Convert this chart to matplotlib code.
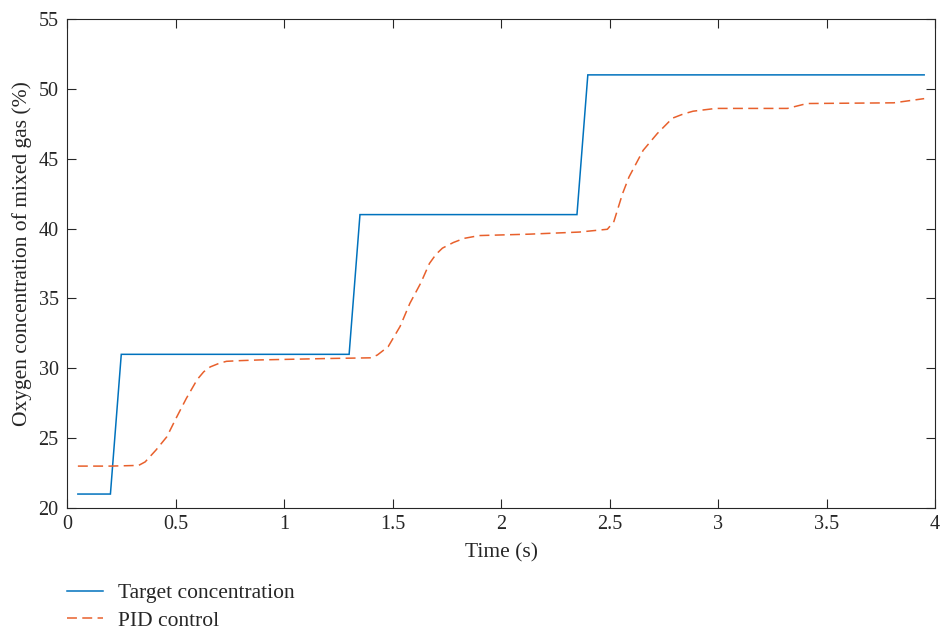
import numpy as np
import matplotlib.pyplot as plt
from matplotlib.lines import Line2D

# ── Data ──
TARGET_T = [0.05, 0.20, 0.25, 1.30, 1.35, 2.35, 2.40, 3.95]
TARGET_Y = [21, 21, 31, 31, 41, 41, 51, 51]

PID_T = [0.05, 0.20, 0.33, 0.36, 0.41, 0.46, 0.505, 0.55, 0.60, 0.63, 0.66,
         0.70, 0.735, 0.80, 0.89, 1.20, 1.40, 1.43, 1.48, 1.535, 1.58, 1.63,
         1.67, 1.70, 1.73, 1.78, 1.83, 1.90, 2.13, 2.36, 2.49, 2.52, 2.56,
         2.59, 2.655, 2.72, 2.79, 2.84, 2.885, 2.99, 3.32, 3.41, 3.81, 3.95]
PID_Y = [23.0, 23.0, 23.05, 23.3, 24.15, 25.1, 26.5, 27.85, 29.2, 29.75, 30.1,
         30.35, 30.5, 30.55, 30.6, 30.7, 30.75, 30.95, 31.55, 33.0, 34.65, 36.1,
         37.5, 38.15, 38.6, 39.0, 39.3, 39.5, 39.6, 39.75, 39.95, 40.5, 42.5,
         43.7, 45.6, 46.8, 47.9, 48.2, 48.4, 48.6, 48.6, 48.95, 49.0, 49.3]

X_TICKS = [0, 0.5, 1, 1.5, 2, 2.5, 3, 3.5, 4]
X_TICKLABELS = ['0', '0.5', '1', '1.5', '2', '2.5', '3', '3.5', '4']
Y_TICKS = [20, 25, 30, 35, 40, 45, 50, 55]

BLUE = '#0072BD'
ORANGE = '#E8602C'
AXIS_COLOR = '#262626'

plt.rcParams.update({
    'font.family': 'serif',
    'font.serif': ['Liberation Serif', 'DejaVu Serif'],
    'font.size': 15.5,
    'axes.linewidth': 0.8,
    'axes.edgecolor': AXIS_COLOR,
    'lines.solid_joinstyle': 'miter',
})

fig = plt.figure(figsize=(9.4, 6.31), dpi=100)
ax = fig.add_axes([0.0713, 0.1949, 0.9234, 0.775])

ax.plot(TARGET_T, TARGET_Y, color=BLUE, linewidth=1.1)
ax.plot(PID_T, PID_Y, color=ORANGE, linewidth=1.1, dashes=(6.5, 3.5))

ax.set_xlim(0, 4)
ax.set_ylim(20, 55)
ax.set_xticks(X_TICKS)
ax.set_xticklabels(X_TICKLABELS)
ax.set_yticks(Y_TICKS)
ax.tick_params(direction='in', top=True, right=True, length=6.5, width=0.8,
               colors=AXIS_COLOR, labelsize=14.5)
ax.tick_params(axis='x', pad=5)
ax.tick_params(axis='y', pad=6)

ax.set_xlabel('Time (s)', fontsize=15.5, color=AXIS_COLOR, labelpad=7)
ax.set_ylabel('Oxygen concentration of mixed gas (%)', fontsize=15.5,
              color=AXIS_COLOR, labelpad=5)
ax.yaxis.label.set_y(0.52)

handles = [
    Line2D([], [], color=BLUE, linewidth=1.1),
    Line2D([], [], color=ORANGE, linewidth=1.1, dashes=(6.5, 3.5)),
]
fig.legend(handles, ['Target concentration', 'PID control'],
           loc='upper left', bbox_to_anchor=(0.0713, 0.076),
           frameon=False, borderpad=0, borderaxespad=0,
           handlelength=1.65, handletextpad=0.7, labelspacing=0.35,
           fontsize=15.5, labelcolor=AXIS_COLOR)

fig.savefig('out.png', dpi=100)
